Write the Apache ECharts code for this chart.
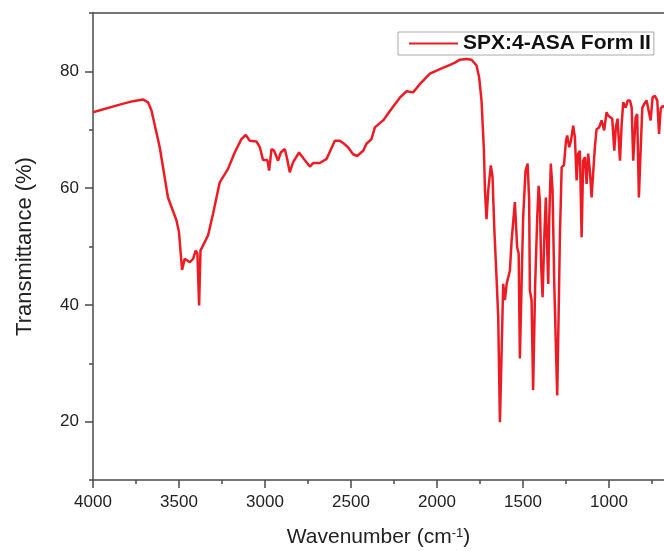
<!DOCTYPE html>
<html>
<head>
<meta charset="utf-8">
<script src="https://cdn.jsdelivr.net/npm/echarts@6/dist/echarts.min.js"></script>
<style>html,body{margin:0;padding:0;background:#fff}#c{width:664px;height:551px}</style>
</head>
<body>
<div id="c"></div>
<script>
const seriesName = 'SPX:4-ASA Form II';
const wavenumber = [4000, 3845, 3767, 3709, 3680, 3660, 3612, 3564, 3515, 3500, 3490, 3482, 3467, 3437, 3418, 3403, 3393, 3383, 3375, 3360, 3331, 3302, 3263, 3215, 3176, 3137, 3112, 3088, 3050, 3030, 3011, 2986, 2976, 2962, 2947, 2924, 2908, 2885, 2871, 2856, 2837, 2802, 2774, 2739, 2720, 2681, 2642, 2594, 2565, 2536, 2517, 2488, 2464, 2429, 2410, 2381, 2361, 2313, 2264, 2216, 2177, 2139, 2100, 2041, 1983, 1924, 1896, 1867, 1828, 1799, 1770, 1755, 1741, 1727, 1721, 1712, 1702, 1687, 1677, 1667, 1653, 1644, 1634, 1624, 1615, 1605, 1595, 1586, 1576, 1566, 1547, 1534, 1525, 1518, 1508, 1499, 1485, 1473, 1464, 1460, 1450, 1441, 1429, 1417, 1409, 1402, 1394, 1386, 1376, 1367, 1359, 1353, 1347, 1338, 1328, 1318, 1308, 1301, 1293, 1285, 1275, 1262, 1250, 1243, 1231, 1221, 1208, 1198, 1188, 1179, 1169, 1159, 1150, 1140, 1130, 1121, 1111, 1101, 1091, 1082, 1072, 1057, 1043, 1028, 1014, 1004, 994, 981, 969, 960, 950, 936, 926, 917, 903, 891, 878, 868, 859, 845, 836, 826, 816, 806, 795, 781, 772, 758, 746, 733, 719, 709, 699, 688, 680];
const transmittance = [73.0, 74.3, 74.9, 75.2, 74.7, 73.3, 67.0, 58.4, 54.5, 52.5, 48.8, 46.0, 47.9, 47.3, 47.9, 49.3, 48.8, 39.9, 49.3, 50.2, 51.9, 55.6, 61.0, 63.3, 66.1, 68.4, 69.1, 68.1, 68.0, 67.0, 64.8, 64.8, 63.0, 66.7, 66.4, 64.7, 66.1, 66.7, 65.0, 62.7, 64.4, 66.1, 65.0, 63.7, 64.3, 64.3, 65.0, 68.1, 68.1, 67.5, 67.0, 65.8, 65.5, 66.4, 67.6, 68.4, 70.4, 71.6, 73.6, 75.5, 76.6, 76.4, 77.8, 79.6, 80.4, 81.1, 81.5, 82.0, 82.1, 82.0, 81.0, 79.0, 75.0, 66.4, 59.6, 54.7, 59.6, 63.9, 61.9, 53.3, 44.2, 37.9, 19.9, 32.2, 43.6, 40.8, 43.6, 43.9, 45.9, 51.0, 57.6, 49.9, 48.8, 30.8, 43.6, 55.0, 63.0, 64.2, 57.9, 42.5, 40.8, 25.4, 43.6, 55.0, 60.4, 57.9, 46.5, 41.3, 51.6, 58.4, 49.3, 43.6, 55.0, 64.2, 59.6, 43.6, 32.2, 24.5, 37.9, 52.2, 63.6, 63.9, 68.1, 69.0, 67.0, 68.1, 70.7, 68.7, 61.3, 65.9, 66.4, 51.6, 64.7, 65.3, 60.7, 65.9, 63.0, 58.4, 63.0, 67.0, 70.1, 70.4, 71.6, 69.9, 73.0, 72.4, 72.7, 71.9, 66.4, 70.4, 71.9, 64.7, 71.0, 74.7, 73.8, 75.0, 75.0, 73.8, 64.7, 72.1, 72.7, 58.4, 66.4, 73.8, 74.4, 75.0, 74.7, 71.6, 75.6, 75.8, 75.0, 69.3, 73.6, 74.1, 73.8];
const xMajorTicks = [4000, 3500, 3000, 2500, 2000, 1500, 1000];
const xMinorTicks = [3750, 3250, 2750, 2250, 1750, 1250, 750];
const yMajorTicks = [20, 40, 60, 80];
const yMinorTicks = [10, 30, 50, 70, 90];
const xRange = [680, 4000];
const yRange = [10, 90];

const FONT = '"Liberation Sans", Arial, sans-serif';
const AX = '#4a4a4a';
const chart = echarts.init(document.getElementById('c'), null, {renderer: 'canvas'});
const xBase = {type: 'value', min: xRange[0], max: xRange[1], inverse: true, splitLine: {show: false}, gridIndex: 0};
const yBase = {type: 'value', min: yRange[0], max: yRange[1], splitLine: {show: false}, gridIndex: 0};
chart.setOption({
  animation: false,
  backgroundColor: '#fff',
  textStyle: {fontFamily: FONT},
  grid: {left: 93, right: 0, top: 13, bottom: 71, containLabel: false, outerBoundsMode: 'none'},
  legend: {
    data: [seriesName], left: 398, top: 32,
    icon: 'rect', itemWidth: 49, itemHeight: 2,
    textStyle: {fontSize: 21, fontWeight: 'bold', color: '#111', fontFamily: FONT},
    borderColor: '#aaa', borderWidth: 1, borderRadius: 0,
    padding: [1, 3, 1, 11], backgroundColor: '#fff'
  },
  xAxis: [
    Object.assign({}, xBase, {
      position: 'bottom',
      axisLine: {show: true, lineStyle: {color: AX, width: 1.5}},
      axisTick: {show: true, inside: false, length: 8, customValues: xMajorTicks, lineStyle: {color: AX, width: 1.5}},
      axisLabel: {show: true, customValues: xMajorTicks, fontSize: 17, color: '#222', margin: 14, fontFamily: FONT,
        formatter: v => String(v)},
      name: 'Wavenumber (cm{sup|-1})', nameLocation: 'middle', nameGap: 47,
      nameTextStyle: {fontSize: 21, color: '#222', fontFamily: FONT,
        rich: {sup: {fontSize: 13, color: '#222', verticalAlign: 'top', fontFamily: FONT}}}
    }),
    Object.assign({}, xBase, {
      position: 'bottom',
      axisLine: {show: false},
      axisTick: {show: true, inside: false, length: 4, customValues: xMinorTicks, lineStyle: {color: AX, width: 1.5}},
      axisLabel: {show: false}
    }),
    Object.assign({}, xBase, {
      position: 'top',
      axisLine: {show: true, lineStyle: {color: AX, width: 1.5}},
      axisTick: {show: false},
      axisLabel: {show: false}
    })
  ],
  yAxis: [
    Object.assign({}, yBase, {
      position: 'left',
      axisLine: {show: true, lineStyle: {color: AX, width: 1.5}},
      axisTick: {show: true, inside: false, length: 8, customValues: yMajorTicks, lineStyle: {color: AX, width: 1.5}},
      axisLabel: {show: true, customValues: yMajorTicks, fontSize: 17, color: '#222', margin: 14, fontFamily: FONT},
      name: 'Transmittance (%)', nameLocation: 'middle', nameGap: 57,
      nameTextStyle: {fontSize: 22, color: '#222', fontFamily: FONT}
    }),
    Object.assign({}, yBase, {
      position: 'left',
      axisLine: {show: false},
      axisTick: {show: true, inside: false, length: 4, customValues: yMinorTicks, lineStyle: {color: AX, width: 1.5}},
      axisLabel: {show: false}
    })
  ],
  series: [{
    name: seriesName, type: 'line', xAxisIndex: 0, yAxisIndex: 0,
    symbol: 'none', showSymbol: false, clip: true,
    lineStyle: {color: '#ED1C24', width: 2.5},
    itemStyle: {color: '#ED1C24'},
    data: wavenumber.map((w, i) => [w, transmittance[i]])
  }]
});
</script>
</body>
</html>
